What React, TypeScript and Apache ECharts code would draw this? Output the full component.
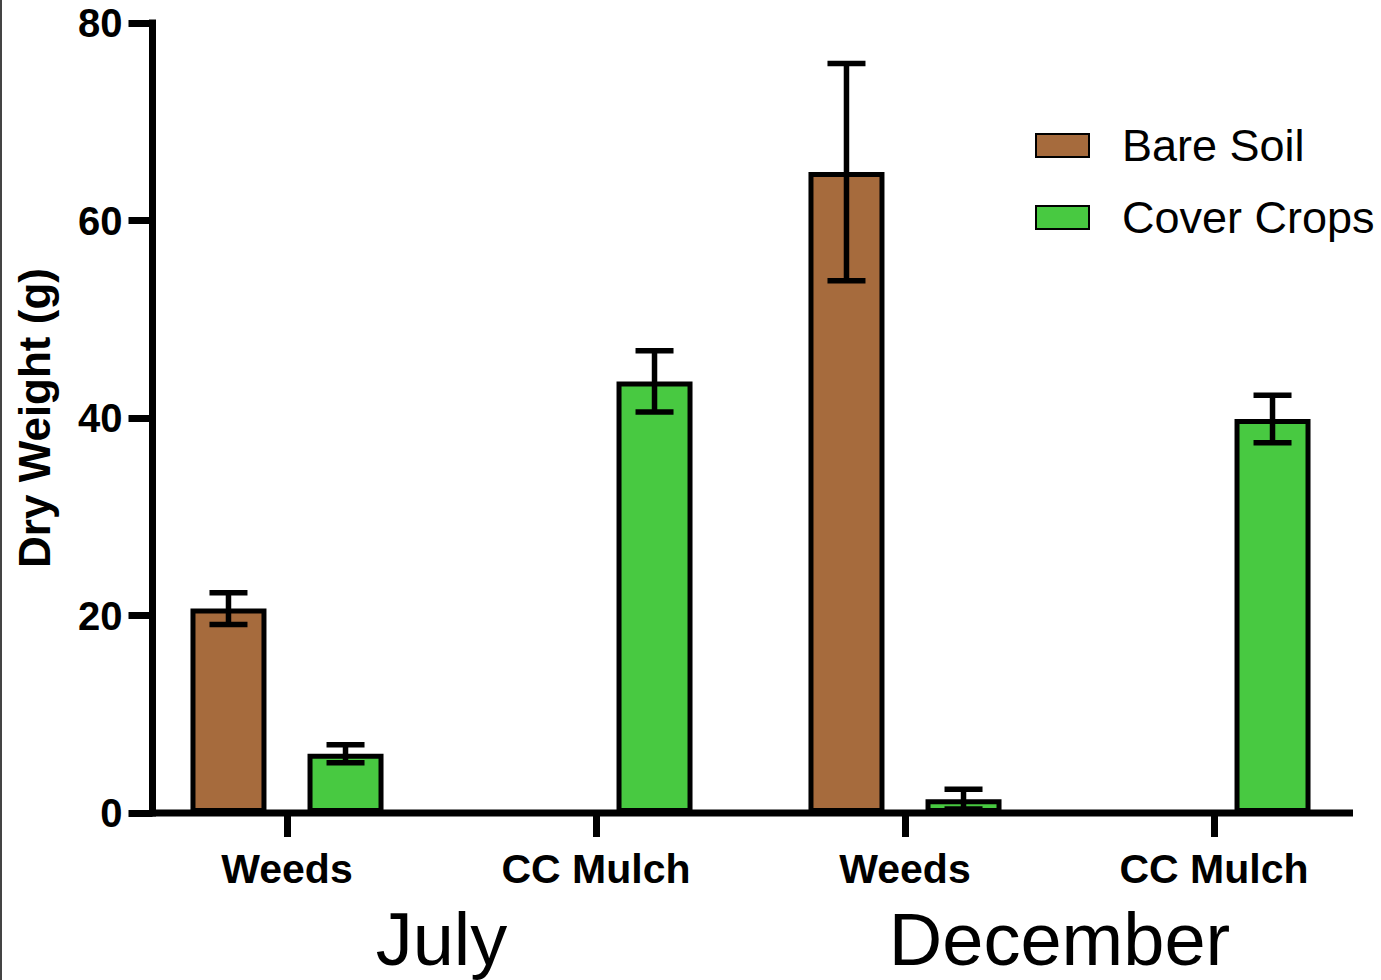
import { useEffect, useRef } from "react";
import * as echarts from "echarts";

// Dry weight (g) by sample type, grouped by month
const categories = ["Weeds", "CC Mulch", "Weeds", "CC Mulch"];
const months = ["July", "December"];
const bareSoil: (number | null)[] = [20.7, null, 64.9, null];
const bareSoilErr: (number | null)[] = [1.6, null, 11.0, null];
const coverCrops: (number | null)[] = [6.0, 43.7, 1.4, 39.9];
const coverCropsErr: (number | null)[] = [0.9, 3.1, 1.0, 2.4];
const yMin = 0;
const yMax = 80;
const yStep = 20;

const FONT = "'Liberation Sans', Arial, Helvetica, sans-serif";
const BROWN = "#A66B3D";
const GREEN = "#48C941";
const BAR_WIDTH = 76;
const BAR_GAP = 0.54;
const BORDER = 5;

const GRID_LEFT = 132.5;
const GRID_RIGHT = 12.5;
const GRID_TOP = 23;
const GRID_BOTTOM = 167;

function errorSeries(name: string, values: (number | null)[], errs: (number | null)[], shift: number) {
  const data = values
    .map((v, i) => (v == null || errs[i] == null ? null : [i, v - (errs[i] as number), v + (errs[i] as number)]))
    .filter((d) => d !== null);
  return {
    type: "custom",
    name,
    xAxisIndex: 0,
    yAxisIndex: 0,
    z: 5,
    silent: true,
    encode: { x: 0, y: [1, 2] },
    data,
    renderItem: (_params: any, api: any) => {
      const lo = api.coord([api.value(0), api.value(1)]);
      const hi = api.coord([api.value(0), api.value(2)]);
      const x = lo[0] + shift;
      const style = { stroke: "#000", lineWidth: 5.5 };
      return {
        type: "group",
        children: [
          { type: "line", shape: { x1: x, y1: hi[1], x2: x, y2: lo[1] }, style },
          { type: "line", shape: { x1: x - 19, y1: hi[1], x2: x + 19, y2: hi[1] }, style },
          { type: "line", shape: { x1: x - 19, y1: lo[1], x2: x + 19, y2: lo[1] }, style },
        ],
      };
    },
  };
}

export default function App() {
  const ref = useRef<HTMLDivElement>(null);

  useEffect(() => {
    if (!ref.current) return;
    const chart = echarts.init(ref.current, undefined, { renderer: "svg" });
    const shift = (BAR_WIDTH * (1 + BAR_GAP)) / 2;
    const zeroY = 980 - GRID_BOTTOM;

    chart.setOption({
      animation: false,
      backgroundColor: "#fff",
      textStyle: { fontFamily: FONT, color: "#000" },
      grid: { left: GRID_LEFT, right: GRID_RIGHT, top: GRID_TOP, bottom: GRID_BOTTOM, containLabel: false },
      legend: {
        data: ["Bare Soil", "Cover Crops"],
        orient: "vertical",
        left: 1035,
        top: 121.5,
        padding: 0,
        itemGap: 24,
        itemWidth: 53,
        itemHeight: 23,
        icon: "rect",
        selectedMode: false,
        textStyle: { fontFamily: FONT, fontSize: 45, color: "#000", lineHeight: 48, padding: [0, 0, 0, 28] },
      },
      xAxis: [
        {
          type: "category",
          data: categories,
          position: "bottom",
          axisLine: { show: false, onZero: false },
          axisTick: { show: true, alignWithLabel: true, length: 24, lineStyle: { color: "#000", width: 7 } },
          axisLabel: { fontFamily: FONT, fontSize: 41, fontWeight: "bold", color: "#000", margin: 35, interval: 0 },
          splitLine: { show: false },
        },
        {
          type: "category",
          data: months,
          position: "bottom",
          gridIndex: 0,
          axisLine: { show: false, onZero: false },
          axisTick: { show: false },
          axisLabel: {
            fontFamily: FONT,
            fontSize: 74,
            lineHeight: 64,
            color: "#000",
            margin: 94,
            interval: 0,
          },
          splitLine: { show: false },
        },
      ],
      yAxis: {
        type: "value",
        min: yMin,
        max: yMax,
        interval: yStep,
        offset: -20,
        name: "Dry Weight (g)",
        nameLocation: "middle",
        nameGap: 96,
        nameTextStyle: { fontFamily: FONT, fontSize: 44, fontWeight: "bold", color: "#000" },
        axisLine: { show: true, lineStyle: { color: "#000", width: 7, cap: "square" } },
        axisTick: { show: true, length: 24, lineStyle: { color: "#000", width: 7 } },
        axisLabel: { fontFamily: FONT, fontSize: 40, fontWeight: "bold", color: "#000", margin: 30 },
        splitLine: { show: false },
      },
      series: [
        {
          type: "bar",
          name: "Bare Soil",
          data: bareSoil,
          barWidth: BAR_WIDTH,
          barGap: `${BAR_GAP * 100}%`,
          itemStyle: { color: BROWN, borderColor: "#000", borderWidth: BORDER },
        },
        {
          type: "bar",
          name: "Cover Crops",
          data: coverCrops,
          barWidth: BAR_WIDTH,
          barGap: `${BAR_GAP * 100}%`,
          itemStyle: { color: GREEN, borderColor: "#000", borderWidth: BORDER },
        },
        errorSeries("Bare Soil SEM", bareSoil, bareSoilErr, -shift),
        errorSeries("Cover Crops SEM", coverCrops, coverCropsErr, shift),
      ],
      graphic: [
        // x axis baseline
        {
          type: "line",
          z: 10,
          shape: { x1: 150, y1: zeroY, x2: 1353, y2: zeroY },
          style: { stroke: "#000", lineWidth: 7 },
        },
        // frame edge on the left
        { type: "rect", shape: { x: 0, y: 0, width: 2, height: 980 }, style: { fill: "#444" } },
      ],
    });

    return () => chart.dispose();
  }, []);

  return (
    <div
      ref={ref}
      style={{ position: "fixed", left: 0, top: 0, width: 1381, height: 980, background: "#fff" }}
    />
  );
}
